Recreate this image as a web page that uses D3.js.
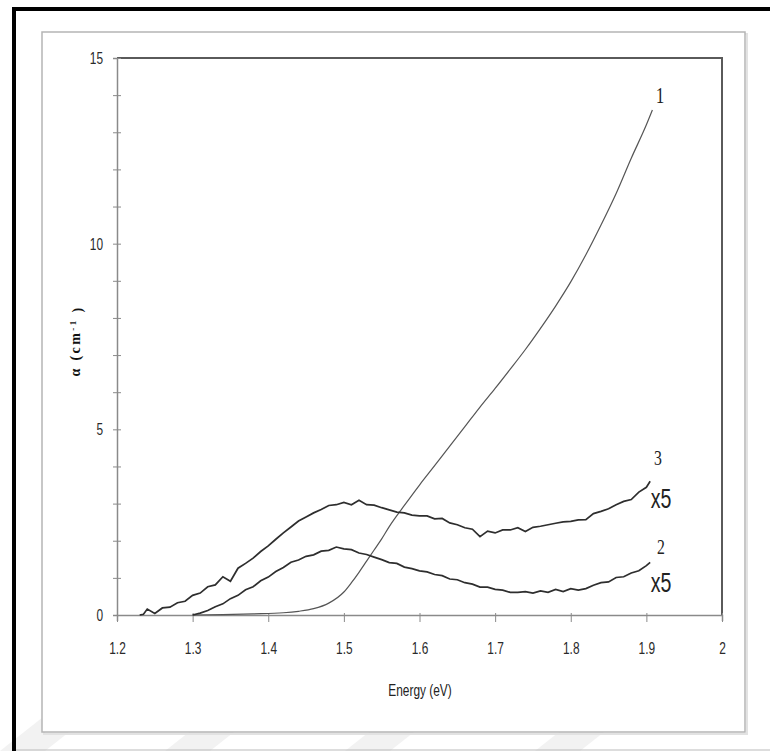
<!DOCTYPE html>
<html>
<head>
<meta charset="utf-8">
<script src="https://cdn.jsdelivr.net/npm/d3@7"></script>
<style>
  html, body { margin: 0; padding: 0; background: #fff; }
  svg { display: block; }
</style>
</head>
<body>
<svg id="chart" width="770" height="751"></svg>
<script>
// Absorption coefficient vs photon energy
const energy1 = [1.30, 1.34, 1.38, 1.42, 1.44, 1.46, 1.48, 1.50, 1.51, 1.52, 1.53, 1.54, 1.55, 1.56, 1.58, 1.60,
  1.62, 1.64, 1.66, 1.68, 1.70, 1.72, 1.74, 1.76, 1.78, 1.80, 1.82, 1.84, 1.86, 1.88, 1.90, 1.908];
const alpha1 = [0, 0.01, 0.03, 0.06, 0.10, 0.17, 0.32, 0.62, 0.87, 1.15, 1.45, 1.75, 2.05, 2.38, 2.95, 3.50,
  4.02, 4.55, 5.07, 5.60, 6.10, 6.62, 7.15, 7.72, 8.32, 8.97, 9.70, 10.50, 11.35, 12.30, 13.20, 13.60];

const energy2 = [1.30, 1.31, 1.32, 1.33, 1.34, 1.35, 1.36, 1.37, 1.38, 1.39, 1.40, 1.41, 1.42, 1.43, 1.44, 1.45,
  1.46, 1.47, 1.48, 1.49, 1.50, 1.51, 1.52, 1.53, 1.54, 1.55, 1.56, 1.57, 1.58, 1.59, 1.60, 1.61, 1.62, 1.63,
  1.64, 1.65, 1.66, 1.67, 1.68, 1.69, 1.70, 1.71, 1.72, 1.73, 1.74, 1.75, 1.76, 1.77, 1.78, 1.79, 1.80, 1.81,
  1.82, 1.83, 1.84, 1.85, 1.86, 1.87, 1.88, 1.89, 1.90, 1.905];
const alpha2 = [0, 0.05, 0.12, 0.22, 0.30, 0.44, 0.53, 0.68, 0.76, 0.92, 1.02, 1.17, 1.28, 1.42, 1.48, 1.58,
  1.62, 1.72, 1.74, 1.83, 1.78, 1.76, 1.67, 1.63, 1.56, 1.49, 1.41, 1.39, 1.29, 1.25, 1.19, 1.16, 1.09, 1.06,
  0.97, 0.95, 0.87, 0.83, 0.75, 0.75, 0.69, 0.67, 0.61, 0.61, 0.63, 0.59, 0.65, 0.61, 0.69, 0.63, 0.71, 0.67,
  0.71, 0.80, 0.87, 0.89, 1.01, 1.03, 1.13, 1.19, 1.33, 1.42];

const energy3 = [1.23, 1.235, 1.24, 1.25, 1.26, 1.27, 1.28, 1.29, 1.30, 1.31, 1.32, 1.33, 1.34, 1.35, 1.36, 1.37,
  1.38, 1.39, 1.40, 1.41, 1.42, 1.43, 1.44, 1.45, 1.46, 1.47, 1.48, 1.49, 1.50, 1.51, 1.52, 1.53, 1.54, 1.55,
  1.56, 1.57, 1.58, 1.59, 1.60, 1.61, 1.62, 1.63, 1.64, 1.65, 1.66, 1.67, 1.68, 1.69, 1.70, 1.71, 1.72, 1.73,
  1.74, 1.75, 1.76, 1.77, 1.78, 1.79, 1.80, 1.81, 1.82, 1.83, 1.84, 1.85, 1.86, 1.87, 1.88, 1.89, 1.90, 1.905];
const alpha3 = [0, 0.02, 0.16, 0.04, 0.19, 0.21, 0.33, 0.37, 0.53, 0.59, 0.76, 0.81, 1.03, 0.91, 1.26, 1.39,
  1.53, 1.71, 1.86, 2.04, 2.21, 2.37, 2.53, 2.64, 2.75, 2.84, 2.95, 2.97, 3.03, 2.97, 3.09, 2.97, 2.96, 2.89,
  2.83, 2.77, 2.75, 2.69, 2.67, 2.67, 2.59, 2.60, 2.48, 2.43, 2.35, 2.31, 2.11, 2.26, 2.21, 2.29, 2.29, 2.35,
  2.25, 2.36, 2.39, 2.43, 2.47, 2.51, 2.52, 2.56, 2.57, 2.73, 2.79, 2.86, 2.97, 3.06, 3.11, 3.31, 3.44, 3.60];

const xTicks = [1.2, 1.3, 1.4, 1.5, 1.6, 1.7, 1.8, 1.9, 2];
const yTicks = [0, 5, 10, 15];
const yMinorTicks = d3.range(0, 16, 1);

const svg = d3.select("#chart");
const W = 770, H = 751;
const plot = { left: 117, top: 58, right: 722, bottom: 615 };

// faint diagonal watermark bands
const bands = svg.append("g").attr("fill", "#f2f2f2");
[[0, 45], [165, 45], [345, 45], [535, 45]].forEach(([x0, w]) => {
  bands.append("path").attr("d", `M${x0},751 L${x0 + w},751 L${x0 + w + 90},680 L${x0 + 90},680 Z`);
});

// outer black border (top and left edges)
svg.append("line").attr("x1", 12).attr("x2", W).attr("y1", 9).attr("y2", 9)
  .attr("stroke", "#000").attr("stroke-width", 4);
svg.append("line").attr("x1", 14).attr("x2", 14).attr("y1", 7).attr("y2", H)
  .attr("stroke", "#000").attr("stroke-width", 4);
svg.append("line").attr("x1", 16).attr("x2", W).attr("y1", 750).attr("y2", 750)
  .attr("stroke", "#bbb").attr("stroke-width", 1);

// grey chart frame with soft shadow
svg.append("rect").attr("x", 44).attr("y", 34).attr("width", 703).attr("height", 700)
  .attr("fill", "none").attr("stroke", "#e2e2e2").attr("stroke-width", 2);
svg.append("rect").attr("x", 42).attr("y", 32).attr("width", 703).attr("height", 700)
  .attr("fill", "#fff").attr("stroke", "#b5b5b5").attr("stroke-width", 1.5);

const x = d3.scaleLinear().domain([1.2, 2]).range([plot.left, plot.right]);
const y = d3.scaleLinear().domain([0, 15]).range([plot.bottom, plot.top]);

// plot frame: top and right edges
svg.append("path")
  .attr("d", `M${plot.left},${plot.top} H${plot.right} V${plot.bottom}`)
  .attr("fill", "none").attr("stroke", "#5a5a5a").attr("stroke-width", 2);

// narrow sans: Liberation Sans squeezed horizontally
const sans = "'Liberation Sans', Arial, sans-serif";
const squeeze = 0.7;

// y axis
const yAxis = svg.append("g").attr("transform", `translate(${plot.left},0)`)
  .call(d3.axisLeft(y).tickValues(yMinorTicks).tickSize(4).tickFormat(""));
yAxis.select(".domain").attr("stroke", "#8a8a8a").attr("stroke-width", 1.5);
yAxis.selectAll(".tick line").attr("stroke", "#8a8a8a").attr("x2", -4).attr("x1", 4);

svg.append("g").selectAll("g").data(yTicks).join("g")
  .attr("transform", d => `translate(${plot.left - 14},${y(d)})`)
  .append("text").attr("transform", `scale(${squeeze},1)`).attr("dy", "0.36em")
  .attr("text-anchor", "end").attr("font-family", sans).attr("font-size", 17)
  .attr("fill", "#2a2a2a").text(d => d);

// x axis
const xAxis = svg.append("g").attr("transform", `translate(0,${plot.bottom})`)
  .call(d3.axisBottom(x).tickValues(xTicks).tickSize(6).tickFormat(d => d3.format("")(d)));
xAxis.select(".domain").attr("stroke", "#8a8a8a").attr("stroke-width", 1.5);
xAxis.selectAll(".tick line").attr("stroke", "#8a8a8a").attr("y1", -2).attr("y2", 7);
xAxis.selectAll(".tick text").attr("font-family", sans).attr("font-size", 17)
  .attr("fill", "#2a2a2a").attr("y", 0).attr("dy", "0.36em")
  .attr("transform", `translate(0,33) scale(${squeeze},1)`);

// axis titles
svg.append("g").attr("transform", "translate(420,690)")
  .append("text").attr("transform", `scale(${squeeze},1)`).attr("dy", "0.36em")
  .attr("text-anchor", "middle").attr("font-family", sans).attr("font-size", 17)
  .attr("fill", "#222").text("Energy (eV)");

const yTitle = svg.append("text").attr("transform", "translate(75,341) rotate(-90)")
  .attr("dy", "0.35em").attr("text-anchor", "middle")
  .attr("font-family", "'Liberation Serif', 'DejaVu Serif', serif").attr("font-size", 14)
  .attr("font-weight", "bold").attr("letter-spacing", 2.4).attr("fill", "#111");
yTitle.append("tspan").text("α (cm");
yTitle.append("tspan").attr("dy", "-0.4em").attr("font-size", 9).text("-1");
yTitle.append("tspan").attr("dy", "0.4em").text(" )");

// curves
const zip = (a, b) => a.map((v, i) => [v, b[i]]);
const smooth = d3.line().x(d => x(d[0])).y(d => y(d[1])).curve(d3.curveMonotoneX);
const jagged = d3.line().x(d => x(d[0])).y(d => y(d[1]));

svg.append("path").datum(zip(energy1, alpha1)).attr("d", smooth)
  .attr("fill", "none").attr("stroke", "#555").attr("stroke-width", 1.2);
svg.append("path").datum(zip(energy2, alpha2)).attr("d", jagged)
  .attr("fill", "none").attr("stroke", "#2e2e2e").attr("stroke-width", 1.7);
svg.append("path").datum(zip(energy3, alpha3)).attr("d", jagged)
  .attr("fill", "none").attr("stroke", "#2e2e2e").attr("stroke-width", 1.7);

// curve labels
const serif = "'Liberation Serif', 'DejaVu Serif', serif";
const labels = svg.append("g").attr("fill", "#222");
function label(tx, ty, text, family, size, sx) {
  labels.append("g").attr("transform", `translate(${tx},${ty})`)
    .append("text").attr("transform", `scale(${sx},1)`).attr("text-anchor", "middle")
    .attr("font-family", family).attr("font-size", size).text(text);
}
label(660, 103, "1", serif, 23, 0.75);
label(658, 465, "3", serif, 21, 0.75);
label(661, 508, "x5", sans, 28, squeeze);
label(661, 554, "2", serif, 21, 0.75);
label(661, 592, "x5", sans, 28, squeeze);
</script>
</body>
</html>
